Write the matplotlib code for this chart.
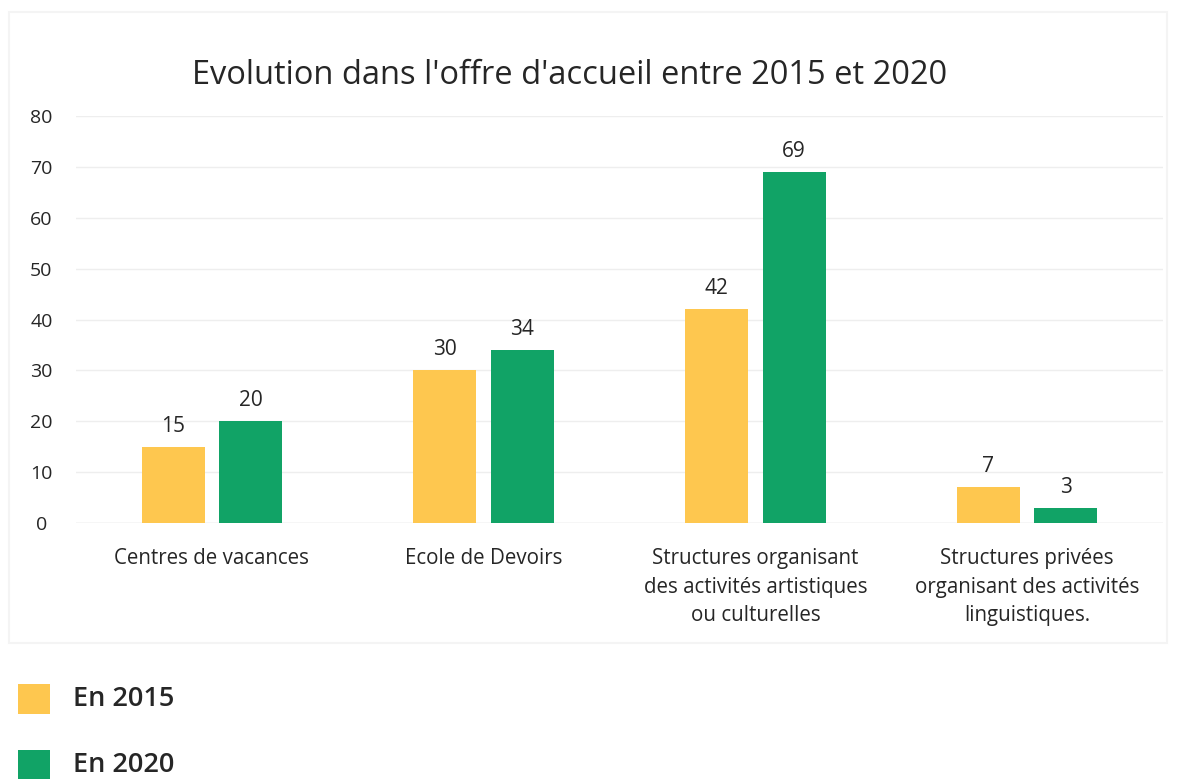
import matplotlib
matplotlib.use("Agg")
import matplotlib.pyplot as plt
from matplotlib.patches import Rectangle
import numpy as np

plt.rcParams['font.family'] = ['Open Sans', 'DejaVu Sans']

categories = ["Centres de vacances", "Ecole de Devoirs",
              "Structures organisant\ndes activités artistiques\nou culturelles",
              "Structures privées\norganisant des activités\nlinguistiques."]
values_2015 = [15, 30, 42, 7]
values_2020 = [20, 34, 69, 3]
series_labels = ["En 2015", "En 2020"]
yticks = [0, 10, 20, 30, 40, 50, 60, 70, 80]
title = "Evolution dans l'offre d'accueil entre 2015 et 2020"

c2015 = "#FEC74F"
c2020 = "#11A366"
text_color = "#262626"

fig = plt.figure(figsize=(11.79, 7.79), dpi=100)
ax = fig.add_axes([0.0645, 0.3286, 0.922, 0.5225])

# faint chart border
fig.patches.append(Rectangle((0.008, 0.175), 0.982, 0.81, transform=fig.transFigure,
                             facecolor='none', edgecolor='#f4f4f4', lw=1.5))

x = np.arange(len(categories))
w = 0.232
off = 0.1425
b1 = ax.bar(x - off, values_2015, w, color=c2015, zorder=3)
b2 = ax.bar(x + off, values_2020, w, color=c2020, zorder=3)
for bars, vals in ((b1, values_2015), (b2, values_2020)):
    for r, v in zip(bars, vals):
        ax.text(r.get_x() + r.get_width() / 2, v + 2.0, str(v), ha='center', va='bottom',
                fontsize=15, color=text_color)

ax.set_xlim(-0.5, len(categories) - 0.5)
ax.set_ylim(0, 80)
ax.set_yticks(yticks)
ax.set_xticks(x)
ax.set_xticklabels(categories, fontsize=14.8, color=text_color, linespacing=1.48)
ax.tick_params(axis='both', length=0, colors=text_color)
ax.tick_params(axis='y', labelsize=14, pad=25)
ax.tick_params(axis='x', pad=18)
for lbl in ax.get_yticklabels():
    lbl.set_horizontalalignment('center')
ax.yaxis.grid(True, color='#eeeeee', lw=1, zorder=0)
for s in ax.spines.values():
    s.set_visible(False)
ax.axhline(0, color='#e6e6e6', lw=1, zorder=2)

fig.text(0.4835, 0.903, title, ha='center', va='center', fontsize=23.5, color=text_color)

# legend
for i, (lab, col) in enumerate(zip(series_labels, [c2015, c2020])):
    yc = 1 - (699 + i * 66) / 779
    fig.patches.append(Rectangle((18 / 1179, yc - 15 / 779), 32 / 1179, 30 / 779,
                                 transform=fig.transFigure, facecolor=col, edgecolor='none'))
    fig.text(73 / 1179, yc, lab, ha='left', va='center', fontsize=19.5, color=text_color,
             fontweight='semibold')

fig.savefig("out.png", dpi=100, facecolor='white')
